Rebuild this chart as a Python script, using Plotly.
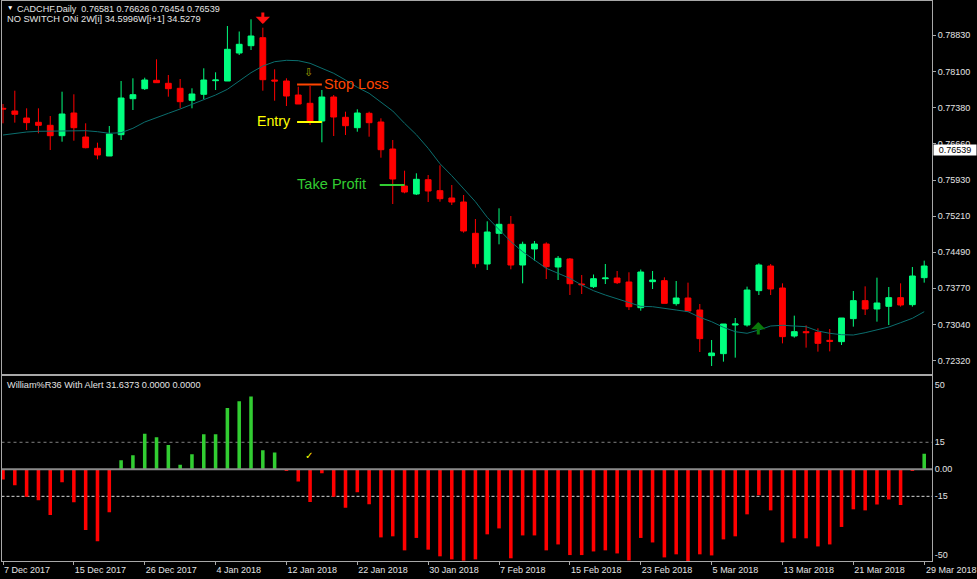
import plotly.graph_objects as go

opens = [.77364,.7731,.7717,.77084,.77024,.76816,.7727,.7679,.76564,.7641,.76836,.77556,.77756,.77924,.77864,.77764,.77524,.77644,.77916,.7791,.7847,.78616,.78776,.7793,.7791,.7763,.77464,.7711,
.7759,.77184,.76976,.77264,.7709,.7655,.7581,.7565,.75936,.75716,.7557,.7549,.74864,.7425,.74864,.75044,.7423,.7455,.7465,.7419,.7435,.7385,.73796,.73956,.7397,.7389,.73376,
.73897,.73917,.73457,.7357,.7333,.72417,.72457,.7303,.7303,.73717,.7421,.7377,.7281,.72897,.72883,.72723,.72697,.73157,.73517,.7335,.73403,.73577,.73437,.73977]
highs = [.7745,.77716,.77364,.77364,.7721,.77696,.77644,.77064,.76676,.7701,.7791,.77964,.77976,.78344,.7803,.7795,.77764,.78164,.78084,.7901,.789,.79144,.78976,.78144,.77964,.77796,.7781,.7773,
.7763,.77296,.77344,.77296,.77164,.7673,.76116,.76064,.7603,.76224,.7583,.7563,.7515,.75104,.75364,.7521,.74696,.7471,.74684,.7441,.7437,.7403,.7404,.7425,.7411,.74084,.7414,
.7411,.73983,.7391,.73877,.7345,.7273,.7305,.7317,.73797,.74263,.7425,.73863,.73217,.73023,.72963,.7295,.7317,.7371,.73803,.73977,.7379,.73863,.7419,.74317]
lows = [.77064,.77077,.7693,.76864,.7653,.76696,.76716,.76564,.76344,.7641,.7673,.7733,.7773,.77876,.77596,.77364,.77364,.7755,.7773,.7791,.7843,.7853,.77716,.77516,.7741,.7745,.7703,.76684,
.7681,.7683,.76896,.76796,.76376,.7545,.75664,.7563,.7549,.75496,.7543,.74876,.74176,.7413,.74644,.74144,.73864,.74316,.7395,.7393,.7363,.7365,.7377,.7385,.7385,.7333,.73316,
.7375,.73463,.73417,.7331,.7249,.7221,.72297,.72377,.72997,.7363,.7363,.72663,.72777,.72577,.72497,.72503,.7263,.72997,.7323,.73097,.7303,.73397,.73397,.73877]
closes = [.7735,.77244,.77077,.77024,.76816,.7725,.76976,.76576,.7643,.7685,.7757,.77636,.7793,.77876,.77756,.77496,.7765,.7793,.7793,.78544,.78644,.7881,.77936,.7791,.7761,.7745,.7711,.7759,
.7719,.77016,.7727,.77076,.76536,.7595,.7569,.75944,.7571,.75556,.7549,.7491,.74256,.7489,.75044,.7423,.74644,.7465,.74196,.74364,.73856,.73836,.73956,.7397,.73876,.73396,.7409,
.7393,.73463,.7357,.7331,.72757,.7247,.7305,.7305,.7373,.7423,.7375,.72797,.72897,.72877,.72663,.72703,.7317,.73517,.7335,.7347,.73577,.7343,.7401,.7421]
ma_line = [.7683,.76864,.7689,.76904,.7691,.76916,.76924,.76916,.76896,.76864,.76876,.76964,.7709,.77184,.77264,.7735,.77444,.77544,.7763,.77744,.7791,.78076,.7821,.78296,.78324,.78316,.78264,.78164,
.78064,.7793,.77784,.77664,.77496,.7731,.77064,.76836,.76564,.76256,.76016,.75764,.75496,.75184,.7493,.74696,.74496,.7433,.74164,.74064,.73964,.7383,.73716,.7363,.7355,.7347,.73404,
.73396,.73356,.7333,.73296,.73184,.73096,.72984,.72896,.72864,.7293,.7301,.73024,.73016,.72996,.7291,.72864,.72836,.7283,.72876,.7293,.7299,.73076,.73164,.73296]
williams = [-5.6,-8.9,-15.2,-17.2,-25.4,-7.2,-18.3,-33.7,-40,-23.9,5,7.8,19.8,17.8,13.5,2.6,8.3,19.4,19.4,34,37.8,40.4,10.6,9.4,-0.7,-6.7,-18.1,-2.2,
-15.2,-21.3,-12.8,-19.4,-37.8,-37.2,-45,-38.1,-44.6,-48.3,-50,-50.7,-50,-36.1,-32.8,-49.4,-36.7,-36.7,-45,-41.7,-47.6,-47.6,-45.6,-45,-46.7,-50.6,-38.1,
-40.6,-48.9,-47.2,-51,-47.2,-47.8,-38.9,-37.2,-25,-14.4,-22.8,-40.6,-38.3,-38.3,-42.8,-41.7,-32,-22.2,-22.8,-19.6,-16.7,-19.8,-0.9,8.7]
date_labels = ["7 Dec 2017","15 Dec 2017","26 Dec 2017","4 Jan 2018","12 Jan 2018","22 Jan 2018","30 Jan 2018",
               "7 Feb 2018","15 Feb 2018","23 Feb 2018","5 Mar 2018","13 Mar 2018","21 Mar 2018","29 Mar 2018"]
price_ticks = [.7883,.781,.7738,.7666,.7593,.7521,.7449,.7377,.7304,.7232]
price_labels = ["0.78830","0.78100","0.77380","0.76660","0.75930","0.75210","0.74490","0.73770","0.73040","0.72320"]
last_price = 0.76539
stop_loss, entry, take_profit = 0.7784, 0.7709, 0.7583

W, H = 977, 579
FONT = "Liberation Sans"
TXT = "#e4e4e4"
AXC = "#a8a8a8"
px = lambda v: v / W
py = lambda v: 1 - v / H
X0, X1 = -0.127, 78.66
bars = list(range(len(closes)))

fig = go.Figure()
fig.add_trace(go.Candlestick(
    x=bars, open=opens, high=highs, low=lows, close=closes, whiskerwidth=0, hoverinfo="skip",
    increasing=dict(line=dict(color="#00FF7F", width=1), fillcolor="#00FF7F"),
    decreasing=dict(line=dict(color="#FF0000", width=1), fillcolor="#FF0000"),
    xaxis="x", yaxis="y"))
fig.add_trace(go.Scatter(x=bars, y=ma_line, mode="lines", line=dict(color="#0B6E6E", width=1),
                         hoverinfo="skip", xaxis="x", yaxis="y"))
for xs, lvl, col in (([24.9, 27], stop_loss, "#FF4500"), ([24.9, 27], entry, "#FFFF00"), ([31.9, 34], take_profit, "#32CD32")):
    fig.add_trace(go.Scatter(x=xs, y=[lvl, lvl], mode="lines", line=dict(color=col, width=2),
                             hoverinfo="skip", xaxis="x", yaxis="y"))
fig.add_trace(go.Bar(x=bars, y=williams, width=0.3, hoverinfo="skip",
                     marker=dict(color=["#32CD32" if v > 0 else "#FF0000" for v in williams], line=dict(width=0)),
                     xaxis="x2", yaxis="y2"))

shapes = [
    dict(type="line", xref="x2", yref="y2", x0=X0, x1=X1, y0=15, y1=15, layer="below", line=dict(color="#808080", width=1, dash="dot")),
    dict(type="line", xref="x2", yref="y2", x0=X0, x1=X1, y0=-15, y1=-15, layer="below", line=dict(color="#d8d8d8", width=1, dash="3px,2px")),
    dict(type="line", xref="x2", yref="y2", x0=X0, x1=X1, y0=0, y1=0, line=dict(color="#8a8a8a", width=2)),
]

ann = []
def label(x, y, text, size=9.3, color=TXT, xref="paper", yref="paper", anchor="left", **kw):
    ann.append(dict(x=x, y=y, xref=xref, yref=yref, text=text, showarrow=False, xanchor=anchor, yanchor="middle",
                    font=dict(family=FONT, size=size, color=color), **kw))

label(px(4.5), py(8), "▼", size=6.5, color="#ffffff")
label(px(15), py(9.5), "CADCHF,Daily  0.76581 0.76626 0.76454 0.76539", size=9.05)
label(px(4.5), py(19), "NO SWITCH ONi 2W[i] 34.5996W[i+1] 34.5279", size=9.25)
label(px(4.5), py(384.5), "William%R36 With Alert 31.6373 0.0000 0.0000", size=9.2)
label(27.01, .7785, "Stop Loss", size=14.6, color="#FF4500", xref="x", yref="y")
label(21.33, .7711, "Entry", size=14.2, color="#FFFF00", xref="x", yref="y")
label(24.73, .7585, "Take Profit", size=14.6, color="#32CD32", xref="x", yref="y")
label(25.85, .7809, "⇩", size=11, color="#A8A000", xref="x", yref="y", anchor="center")
label(25.9, 7.8, "✓", size=10, color="#FFFF00", xref="x2", yref="y2", anchor="center")
label(px(933), last_price, f"{last_price:.5f}", size=9, color="#000000", yref="y", bgcolor="#ffffff", borderpad=0,
      width=42, height=10, align="center")
label(78, py(570), date_labels[-1], size=9, xref="x2")
# signal arrows: head at the data point, tail offset on screen
ann.append(dict(x=22, y=.7905, xref="x", yref="y", ax=0, ay=-13, text="", showarrow=True, arrowhead=1, arrowsize=0.8, arrowwidth=3, arrowcolor="#FF1010"))
ann.append(dict(x=63.95, y=.7309, xref="x", yref="y", ax=0, ay=14, text="", showarrow=True, arrowhead=1, arrowsize=0.8, arrowwidth=3, arrowcolor="#0A7A0A"))

tick_font = dict(family=FONT, size=9, color=TXT)
fig.update_layout(
    width=W, height=H, margin=dict(l=0, r=0, t=0, b=0), autosize=False,
    paper_bgcolor="#000000", plot_bgcolor="#000000", showlegend=False, barmode="overlay",
    shapes=shapes, annotations=ann,
    xaxis=dict(domain=[px(1.5), px(932)], range=[X0, X1], anchor="y", showgrid=False, zeroline=False,
               showticklabels=False, ticks="", showline=True, mirror=True, linecolor=AXC, linewidth=1, rangeslider=dict(visible=False)),
    yaxis=dict(domain=[py(374), py(1)], range=[.7205, .7951], side="right", anchor="x", showgrid=False, zeroline=False,
               tickmode="array", tickvals=price_ticks, ticktext=price_labels, ticks="outside", ticklen=3, tickcolor=AXC,
               tickfont=tick_font, showline=True, mirror=True, linecolor=AXC, linewidth=1),
    xaxis2=dict(domain=[px(1.5), px(932)], range=[X0, X1], anchor="y2", showgrid=False, zeroline=False,
                tickmode="array", tickvals=list(range(0, len(closes), 6)), ticktext=date_labels[:-1] + [""], ticks="outside", ticklen=3, tickcolor=AXC,
                ticklabelposition="outside right", tickfont=tick_font, showline=True, mirror=True, linecolor=AXC, linewidth=1),
    yaxis2=dict(domain=[py(561), py(376)], range=[-50.9, 51.8], side="right", anchor="x2", showgrid=False, zeroline=False,
                tickmode="array", tickvals=[47, 15, 0, -15, -47.5], ticktext=["50", "15", "0.00", "-15", "-50"], ticks="",
                tickfont=tick_font, showline=True, mirror=True, linecolor=AXC, linewidth=1),
)
fig.write_html("out.html", config=dict(displayModeBar=False),
               post_script="document.body.style.margin='0';document.documentElement.style.background='#000';document.body.style.overflow='hidden';")
